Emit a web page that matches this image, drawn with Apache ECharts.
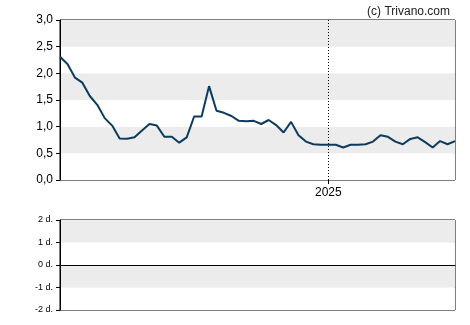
<!DOCTYPE html>
<html>
<head>
<meta charset="utf-8">
<script src="https://cdn.jsdelivr.net/npm/echarts@6/dist/echarts.min.js"></script>
<style>html,body{margin:0;padding:0;background:#fff}#c{width:470px;height:325px}</style>
</head>
<body>
<div id="c"></div>
<script>
// weekly points; index 36 marks the start of 2025
const values = [2.31,2.175,1.92,1.825,1.575,1.41,1.16,1.02,0.78,0.775,
0.80,0.93,1.05,1.02,0.81,0.81,0.70,0.80,1.19,1.19,
1.76,1.30,1.26,1.20,1.11,1.10,1.11,1.05,1.125,1.03,
0.89,1.09,0.84,0.72,0.67,0.66,0.66,0.66,0.61,0.66,
0.66,0.67,0.72,0.84,0.81,0.72,0.67,0.77,0.80,0.71,
0.61,0.73,0.67,0.73];
const categories = values.map((v,i)=>String(i));
const yearIndex = 36;
const yearLabel = '2025';
const priceTicks = ['0,0','0,5','1,0','1,5','2,0','2,5','3,0'];
const lowerTicks = {'-2':'-2 d.','-1':'-1 d.','0':'0 d.','1':'1 d.','2':'2 d.'};

const chart = echarts.init(document.getElementById('c'), null, {renderer:'canvas'});
const font = 'Liberation Sans, Arial, sans-serif';
chart.setOption({
  animation:false,
  backgroundColor:'#fff',
  title:{text:'(c) Trivano.com', right:15, top:1, textStyle:{fontFamily:font,fontSize:12,fontWeight:'normal',color:'#222'}},
  grid:[
    {left:60,top:20,width:395,height:160,show:true,borderColor:'#000',borderWidth:1,backgroundColor:'transparent'},
    {left:60,top:220,width:395,height:90,show:true,borderColor:'#000',borderWidth:1,backgroundColor:'transparent'}
  ],
  xAxis:[
    {type:'category',gridIndex:0,data:categories,boundaryGap:false,
     axisLine:{show:false},
     axisTick:{show:true,length:4,lineStyle:{color:'#000'},interval:(i)=>i===yearIndex},
     axisLabel:{interval:(i)=>i===yearIndex,formatter:(v,i)=>i===yearIndex?yearLabel:'',fontFamily:font,fontSize:12,color:'#000',margin:7},
     splitLine:{show:true,interval:(i)=>i===yearIndex,lineStyle:{color:'#000',type:[1,2],width:1}}},
    {type:'category',gridIndex:1,data:categories,boundaryGap:false,
     axisLine:{show:true,onZero:true,lineStyle:{color:'#000',width:1}},
     axisTick:{show:false},axisLabel:{show:false},splitLine:{show:false}}
  ],
  yAxis:[
    {type:'value',gridIndex:0,min:0,max:3,interval:0.5,
     axisLine:{show:true,lineStyle:{color:'#000'}},
     axisTick:{show:true,length:4,lineStyle:{color:'#000'}},
     axisLabel:{fontFamily:font,fontSize:12,color:'#000',margin:7,formatter:(v)=>priceTicks[Math.round(v*2)]},
     splitLine:{show:false},
     splitArea:{show:true,areaStyle:{color:['#ffffff','#ececec']}}},
    {type:'value',gridIndex:1,min:-2,max:2,interval:1,
     axisLine:{show:true,lineStyle:{color:'#000'}},
     axisTick:{show:true,length:4,lineStyle:{color:'#000'}},
     axisLabel:{fontFamily:font,fontSize:9,color:'#000',margin:7,formatter:(v)=>lowerTicks[String(v)]},
     splitLine:{show:false},
     splitArea:{show:true,areaStyle:{color:['#ffffff','#ececec']}}}
  ],
  series:[
    {type:'line',xAxisIndex:0,yAxisIndex:0,data:values,showSymbol:false,symbol:'none',
     lineStyle:{color:'#0e3b5c',width:2},z:5}
  ]
});
</script>
</body>
</html>
